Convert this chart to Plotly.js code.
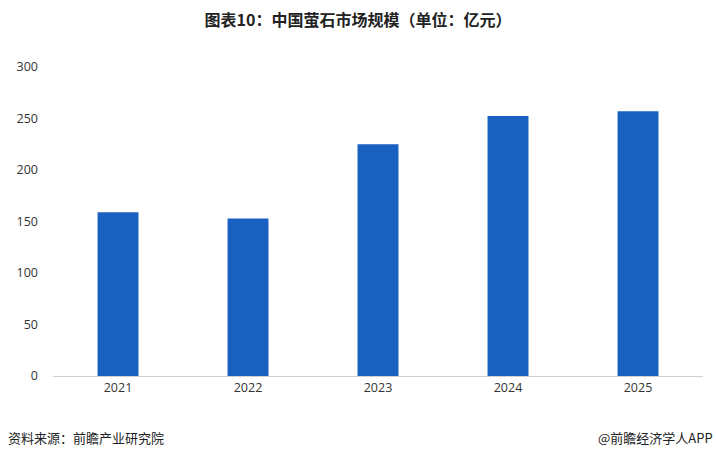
<!DOCTYPE html>
<html><head><meta charset="utf-8">
<script src="https://cdn.plot.ly/plotly-3.0.1.min.js"></script>
<style>html,body{margin:0;padding:0;background:#fff}#c{width:716px;height:458px}</style>
</head><body><div id="c"></div>
<script>
const years = ['2021','2022','2023','2024','2025'];
const marketSize = [159, 153, 225, 252.5, 257];
const yTicks = [0, 50, 100, 150, 200, 250, 300];
const titleText = '图表10：中国萤石市场规模（单位：亿元）';
const sourceText = '资料来源：前瞻产业研究院';
const brandText = '@前瞻经济学人APP';

const font = '"Noto Sans CJK SC", "Microsoft YaHei", sans-serif';
Plotly.newPlot('c', [{
  type: 'bar', x: years, y: marketSize,
  marker: {color: '#1861C1'}, hoverinfo: 'x+y'
}], {
  width: 716, height: 458,
  margin: {l: 53, r: 13, t: 67, b: 82},
  paper_bgcolor: '#fff', plot_bgcolor: '#fff',
  bargap: 0.685,
  title: {text: '<b>' + titleText + '</b>', x: 0.5, xanchor: 'center', y: 0.955, yanchor: 'middle',
          font: {family: font, size: 16, color: '#222'}},
  xaxis: {type: 'category', showline: true, linecolor: '#d0d0d0', linewidth: 1,
          ticks: '', tickfont: {family: 'Open Sans, sans-serif', size: 12.5, color: '#333'}, showgrid: false},
  yaxis: {range: [0, 300], tickvals: yTicks, showgrid: false, zeroline: false, showline: false,
          ticks: '', ticklabelstandoff: 14, tickfont: {family: 'Open Sans, sans-serif', size: 12.5, color: '#333'}},
  showlegend: false,
  annotations: [
    {text: sourceText, xref: 'paper', yref: 'paper', y: -0.205, xanchor: 'left', yanchor: 'middle',
     x: 0, showarrow: false, font: {family: font, size: 13, color: '#222'}},
    {text: brandText, xref: 'paper', yref: 'paper', xanchor: 'right', yanchor: 'middle', y: -0.205,
     x: 1, showarrow: false, font: {family: font, size: 13, color: '#222'}}
  ]
}, {displayModeBar: false, staticPlot: true}).then(function(){
  const gd = document.getElementById('c');
  const fs = gd._fullLayout._size;
  Plotly.relayout(gd, {
    'annotations[0].x': (6 - fs.l) / fs.w,
    'annotations[1].x': (715 - fs.l) / fs.w,
    'annotations[0].y': -(437 - (fs.t + fs.h)) / fs.h,
    'annotations[1].y': -(437 - (fs.t + fs.h)) / fs.h
  });
});
</script></body></html>
